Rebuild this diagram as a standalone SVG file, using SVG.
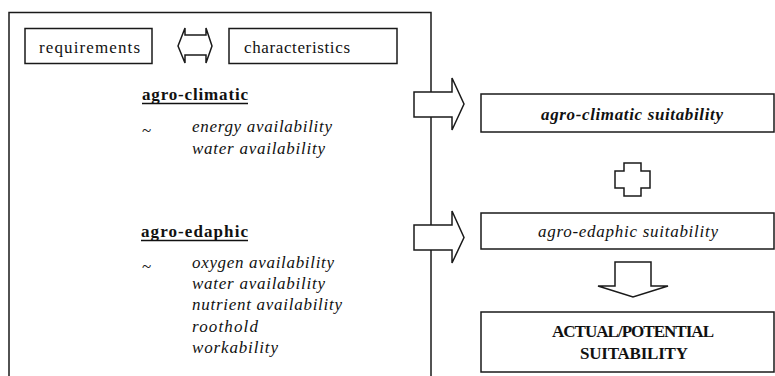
<svg xmlns="http://www.w3.org/2000/svg" width="775" height="376" viewBox="0 0 775 376">
<style>
.box{fill:#fff;stroke:#1a1a1a;stroke-width:1.5}
.arr{fill:#fff;stroke:#1a1a1a;stroke-width:1.5;stroke-linejoin:miter}
text{font-family:'Liberation Serif','Times New Roman','DejaVu Serif',Times,serif;font-size:17px;fill:#111}
.b{font-weight:bold}
.i{font-style:italic}
.ul{stroke:#111;stroke-width:1.3}
</style>
<rect width="775" height="376" fill="#fff"/>
<g id="main-panel">
  <rect class="box" x="9" y="12.5" width="422" height="400"/>
</g>
<g id="requirements">
  <rect class="box" x="25" y="28.5" width="127" height="35"/>
  <text x="39" y="53" textLength="101">requirements</text>
</g>
<g id="characteristics">
  <rect class="box" x="229" y="28.5" width="168" height="35"/>
  <text x="244" y="53" textLength="106">characteristics</text>
</g>
<g id="agro-climatic">
  <text class="b" x="142" y="100" textLength="106">agro-climatic</text>
  <line class="ul" x1="142" y1="103.5" x2="248" y2="103.5"/>
  <text x="142" y="136">~</text>
  <text class="i" x="192" y="132" textLength="140">energy availability</text>
  <text class="i" x="192" y="154" textLength="133">water availability</text>
</g>
<g id="agro-edaphic">
  <text class="b" x="141" y="237" textLength="107">agro-edaphic</text>
  <line class="ul" x1="141" y1="240.5" x2="248" y2="240.5"/>
  <text x="142" y="272">~</text>
  <text class="i" x="192" y="268" textLength="142">oxygen availability</text>
  <text class="i" x="192" y="289" textLength="133">water availability</text>
  <text class="i" x="192" y="310" textLength="150">nutrient availability</text>
  <text class="i" x="192" y="332" textLength="66">roothold</text>
  <text class="i" x="192" y="353" textLength="86">workability</text>
</g>
<g id="agro-climatic-suitability">
  <rect class="box" x="481" y="94" width="293" height="38"/>
  <text class="b i" x="632" y="120" text-anchor="middle" textLength="182">agro-climatic suitability</text>
</g>
<g id="agro-edaphic-suitability">
  <rect class="box" x="481" y="213" width="293" height="36"/>
  <text class="i" x="628" y="237" text-anchor="middle" textLength="180">agro-edaphic suitability</text>
</g>
<g id="actual-potential-suitability">
  <rect class="box" x="481" y="312" width="293" height="60"/>
  <text class="b" x="633" y="337" text-anchor="middle" textLength="162">ACTUAL/POTENTIAL</text>
  <text class="b" x="634" y="359" text-anchor="middle" textLength="108">SUITABILITY</text>
</g>
<g id="connectors">
  <path class="arr" d="M178,46 L185,28 L185,35 L206,35 L206,28 L212,46 L206,63 L206,55 L185,55 L185,63 Z"/>
  <path class="arr" d="M414,92 L452,92 L452,78 L464,104 L452,130 L452,117 L414,117 Z"/>
  <path class="arr" d="M414,225 L452,225 L452,211 L464,237.5 L452,263 L452,250 L414,250 Z"/>
  <path class="arr" d="M624,163 L641,163 L641,171 L650,171 L650,188 L641,188 L641,196 L624,196 L624,188 L615,188 L615,171 L624,171 Z"/>
  <path class="arr" d="M615,262 L651,262 L651,286 L668,286 L633,297 L598,286 L615,286 Z"/>
</g>
</svg>
